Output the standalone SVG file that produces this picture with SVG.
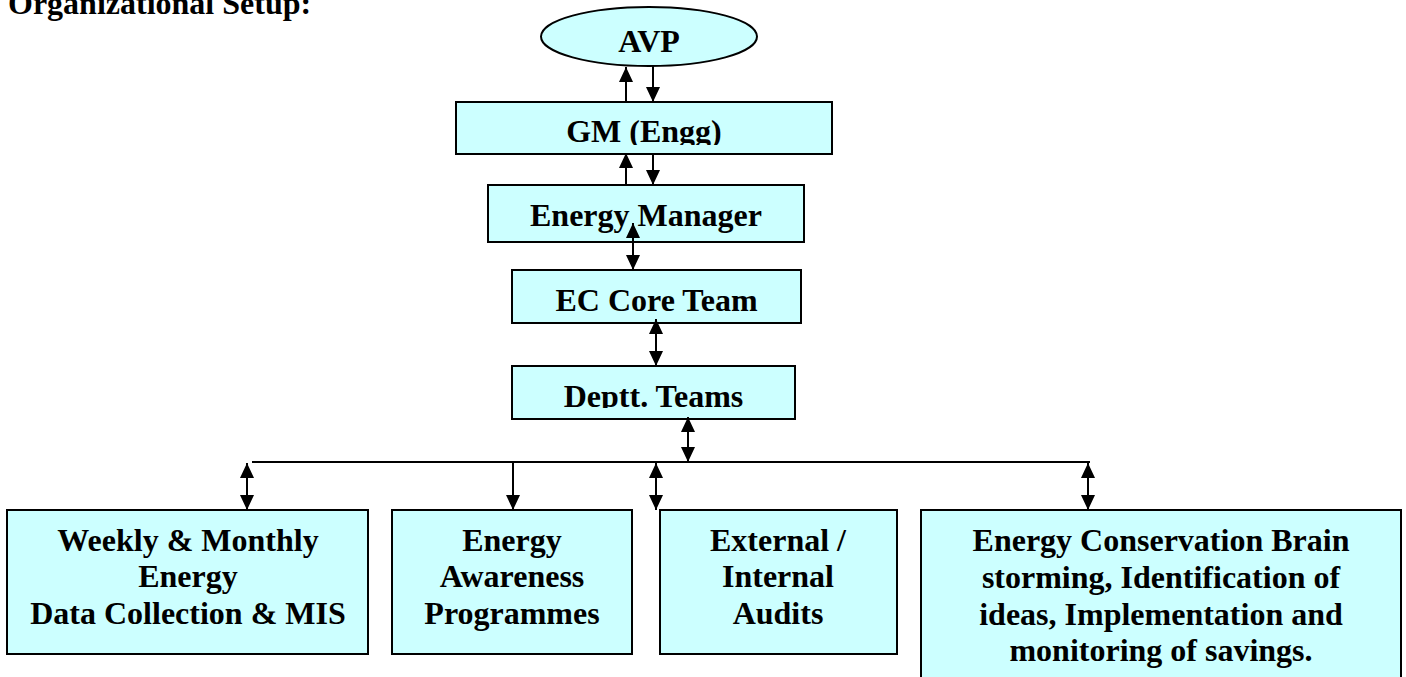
<svg xmlns="http://www.w3.org/2000/svg" width="1406" height="677" viewBox="0 0 1406 677">
<style>
  .box { fill: #CCFFFF; stroke: #000; stroke-width: 2; }
  .t { font-family: "Liberation Serif", "Times New Roman", serif; font-weight: bold; font-size: 32px; fill: #000; text-anchor: middle; }
  .title { font-family: "Liberation Serif", "Times New Roman", serif; font-weight: bold; font-size: 32px; fill: #000; }
  .c { stroke: #000; stroke-width: 2; fill: none; }
  .a1 { marker-end: url(#ah); }
  .a2 { marker-start: url(#ah); marker-end: url(#ah); }
</style>
<defs>
  <marker id="ah" viewBox="0 0 15 14" refX="15" refY="7" markerWidth="15" markerHeight="14" markerUnits="userSpaceOnUse" orient="auto-start-reverse">
    <path d="M0,0 L15,7 L0,14 z" fill="#000"/>
  </marker>
  <clipPath id="clipGM"><rect x="450" y="100" width="400" height="45"/></clipPath>
  <clipPath id="clipDT"><rect x="500" y="360" width="320" height="48"/></clipPath>
</defs>
<rect width="1406" height="677" fill="#fff"/>
<text class="title" x="8" y="14">Organizational Setup:</text>

<g id="avp">
  <ellipse class="box" cx="649" cy="36.5" rx="108" ry="29.5"/>
  <text class="t" x="649" y="52">AVP</text>
</g>
<g id="gm">
  <rect class="box" x="456" y="102" width="376" height="52"/>
  <text class="t" x="644" y="142" clip-path="url(#clipGM)">GM (Engg)</text>
</g>
<g id="energy-manager">
  <rect class="box" x="488" y="185" width="316" height="57"/>
  <text class="t" x="646" y="226">Energy Manager</text>
</g>
<g id="ec-core-team">
  <rect class="box" x="512" y="270" width="289" height="53"/>
  <text class="t" x="656.5" y="311">EC Core Team</text>
</g>
<g id="deptt-teams">
  <rect class="box" x="512" y="366" width="283" height="53"/>
  <text class="t" x="653.5" y="407" clip-path="url(#clipDT)">Deptt. Teams</text>
</g>
<g id="data-collection">
  <rect class="box" x="7" y="510" width="361" height="144"/>
  <text class="t" x="188" y="551">Weekly &amp; Monthly</text>
  <text class="t" x="188" y="587">Energy</text>
  <text class="t" x="188" y="624">Data Collection &amp; MIS</text>
</g>
<g id="awareness">
  <rect class="box" x="392" y="510" width="240" height="144"/>
  <text class="t" x="512" y="551">Energy</text>
  <text class="t" x="512" y="587">Awareness</text>
  <text class="t" x="512" y="624">Programmes</text>
</g>
<g id="audits">
  <rect class="box" x="660" y="510" width="237" height="144"/>
  <text class="t" x="778" y="551">External /</text>
  <text class="t" x="778" y="587">Internal</text>
  <text class="t" x="778" y="624">Audits</text>
</g>
<g id="conservation">
  <rect class="box" x="921" y="510" width="480" height="200"/>
  <text class="t" x="1161" y="551">Energy Conservation Brain</text>
  <text class="t" x="1161" y="588">storming, Identification of</text>
  <text class="t" x="1161" y="625">ideas, Implementation and</text>
  <text class="t" x="1161" y="661">monitoring of savings.</text>
</g>

<g id="connectors">
  <line class="c a1" x1="626" y1="102" x2="626" y2="67"/>
  <line class="c a1" x1="653" y1="66" x2="653" y2="102"/>
  <line class="c a1" x1="626" y1="185" x2="626" y2="153"/>
  <line class="c a1" x1="653" y1="154" x2="653" y2="185"/>
  <line class="c a2" x1="633" y1="223" x2="633" y2="270"/>
  <line class="c a2" x1="656" y1="319" x2="656" y2="366"/>
  <line class="c a2" x1="688" y1="417" x2="688" y2="462"/>
  <line class="c" x1="252" y1="462" x2="1090" y2="462"/>
  <line class="c a2" x1="247" y1="463" x2="247" y2="510"/>
  <line class="c a1" x1="513" y1="462" x2="513" y2="510"/>
  <line class="c a2" x1="656" y1="463" x2="656" y2="510"/>
  <line class="c a2" x1="1088" y1="463" x2="1088" y2="510"/>
</g>
</svg>
